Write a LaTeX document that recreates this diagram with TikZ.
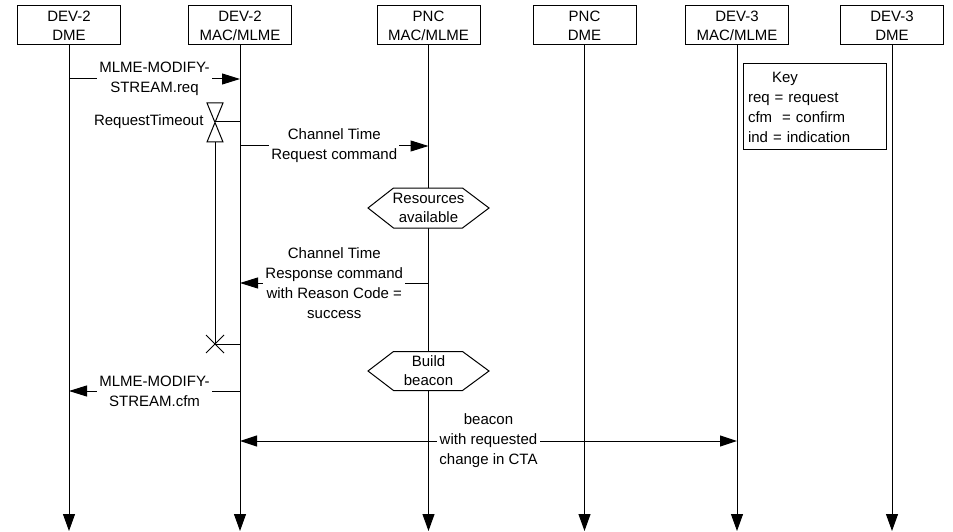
\documentclass[tikz,border=0pt]{standalone}
\usepackage{fontspec}
\setmainfont{Liberation Sans}
\usetikzlibrary{arrows.meta}
\begin{document}
\begin{tikzpicture}[x=1pt,y=-1pt,line width=1pt,
  font=\fontsize{15}{20}\selectfont,
  ent/.style={draw, fill=white, minimum width=103pt, minimum height=39pt, align=center, inner sep=0pt, font=\fontsize{15}{19}\selectfont},
  life/.style={-{Triangle[length=17pt,width=12pt]}},
  msg/.style={-{Triangle[length=18pt,width=11pt]}},
  lbl/.style={fill=white, align=center, inner xsep=2pt, inner ysep=0pt},
  hexlbl/.style={align=center, inner sep=0pt, font=\fontsize{15}{19}\selectfont},
  keybox/.style={draw, minimum width=143pt, minimum height=86pt, text width=133pt, inner xsep=5pt, align=left}
]
\useasboundingbox (0,0) rectangle (953,532);

% entities
\node[ent] (b1) at (69,25.5)    {DEV-2\\DME};
\node[ent] (b2) at (240,25.5)   {DEV-2\\MAC/MLME};
\node[ent] (b3) at (428.5,25.5) {PNC\\MAC/MLME};
\node[ent] (b4) at (584.5,25.5) {PNC\\DME};
\node[ent] (b5) at (737,25.5)   {DEV-3\\MAC/MLME};
\node[ent] (b6) at (892,25.5)   {DEV-3\\DME};

% lifelines
\foreach \b in {b1,b2,b3,b4,b5,b6}
  \draw[life] (\b.south) -- (\b |- 0,531);

% key
\node[keybox, fill=white] (key) at (814.5,107) {\hspace*{24pt}Key\\req = request\\cfm\ \ = confirm\\ind = indication};

% MLME-MODIFY-STREAM.req
\draw[msg] (b1 |- 0,79) -- node[lbl] (m1) {MLME-MODIFY-\\STREAM.req} (b2 |- 0,79);

% Request timeout timer
\coordinate (tmr) at (215,122);
\coordinate (tmrb) at (215,142);
\coordinate (tmx) at (215,344);
\draw[line join=miter, shift={(tmr)}] (-8,-19) -- (8,-19) -- (-8,20) -- (8,20) -- cycle;
\draw (tmr) -- (b2 |- tmr);
\node[anchor=east, inner sep=0pt] (rt) at (204,122) {RequestTimeout};
\draw (tmrb) -- (tmx);
\draw[shift={(tmx)}] (-9,-9) -- (9,9) (-9,9) -- (9,-9);
\draw (tmx) -- (b2 |- tmx);

% Channel Time Request command
\draw[msg] (b2 |- 0,146) -- node[lbl] (m2) {Channel Time\\Request command} (b3 |- 0,146);

% Resources available
\coordinate (hx1) at (428.5,208);
\draw[fill=white, shift={(hx1)}] (-60.5,0) -- (-35,-20) -- (34,-20) -- (60.5,0) -- (34,20) -- (-35,20) -- cycle;
\node[hexlbl] (h1) at (hx1) {Resources\\available};

% Channel Time Response command
\draw[msg] (b3 |- 0,283) -- node[lbl] (m3) {Channel Time\\Response command\\with Reason Code =\\success} (b2 |- 0,283);

% Build beacon
\coordinate (hx2) at (428.5,371);
\draw[fill=white, shift={(hx2)}] (-60.5,0) -- (-35,-19.5) -- (34,-19.5) -- (60.5,0) -- (34,19.5) -- (-35,19.5) -- cycle;
\node[hexlbl] (h2) at (hx2) {Build\\beacon};

% MLME-MODIFY-STREAM.cfm
\draw[msg] (b2 |- 0,391) -- node[lbl] (m4) {MLME-MODIFY-\\STREAM.cfm} (b1 |- 0,391);

% beacon
\draw[{Triangle[length=17pt,width=11pt]}-{Triangle[length=17pt,width=11pt]}] (b2 |- 0,441) -- node[lbl] (m5) {beacon\\with requested\\change in CTA} (b5 |- 0,441);
\end{tikzpicture}
\end{document}
